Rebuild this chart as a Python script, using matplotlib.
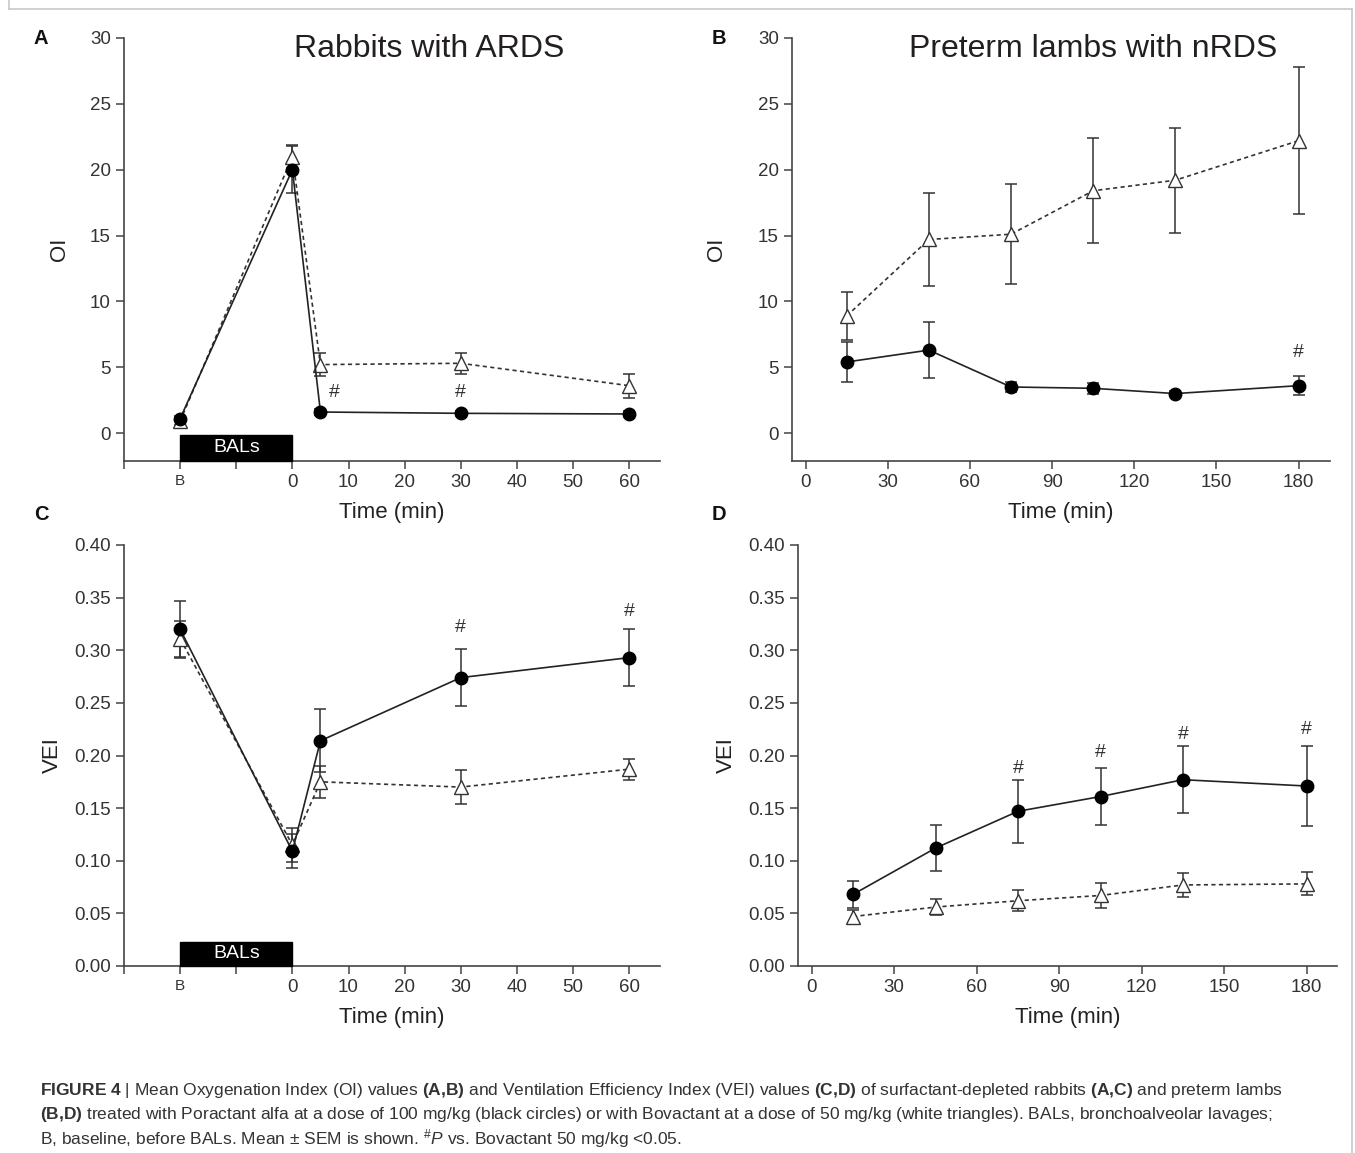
import matplotlib
matplotlib.use("Agg")
import matplotlib.pyplot as plt
from matplotlib.lines import Line2D
from matplotlib.patches import Rectangle

plt.rcParams['font.family'] = ['Liberation Sans', 'DejaVu Sans']
plt.rcParams['mathtext.fontset'] = 'custom'
plt.rcParams['mathtext.rm'] = 'Liberation Sans'
plt.rcParams['mathtext.bf'] = 'Liberation Sans:bold'
plt.rcParams['mathtext.it'] = 'Liberation Sans:italic'

NARROW = ['Liberation Sans Narrow', 'Liberation Sans', 'DejaVu Sans']

# rabbits: B (baseline) is drawn at -20 on the time axis
rab_t = [-20, 0, 5, 30, 60]
rab_oi_por = [1.1, 20.0, 1.6, 1.5, 1.45]
rab_oi_por_err = [0.2, 1.8, 0.2, 0.2, 0.2]
rab_oi_bov = [0.9, 21.0, 5.2, 5.3, 3.6]
rab_oi_bov_err = [0.3, 0.9, 0.9, 0.8, 0.9]
rab_vei_por = [0.320, 0.109, 0.214, 0.274, 0.293]
rab_vei_por_err = [0.027, 0.016, 0.030, 0.027, 0.027]
rab_vei_bov = [0.311, 0.115, 0.175, 0.170, 0.187]
rab_vei_bov_err = [0.017, 0.016, 0.015, 0.016, 0.010]
rab_ticks = [-30, -20, -10, 0, 10, 20, 30, 40, 50, 60]
rab_ticklabels = ['', 'B', '', '0', '10', '20', '30', '40', '50', '60']

# lambs
lamb_t = [15, 45, 75, 105, 135, 180]
lamb_oi_por = [5.4, 6.3, 3.5, 3.4, 3.0, 3.6]
lamb_oi_por_err = [1.5, 2.1, 0.4, 0.4, 0.2, 0.7]
lamb_oi_bov = [8.9, 14.7, 15.1, 18.4, 19.2, 22.2]
lamb_oi_bov_err = [1.8, 3.5, 3.8, 4.0, 4.0, 5.6]
lamb_vei_por = [0.068, 0.112, 0.147, 0.161, 0.177, 0.171]
lamb_vei_por_err = [0.013, 0.022, 0.030, 0.027, 0.032, 0.038]
lamb_vei_bov = [0.047, 0.056, 0.062, 0.067, 0.077, 0.078]
lamb_vei_bov_err = [0.006, 0.008, 0.010, 0.012, 0.011, 0.011]
lamb_ticks = [0, 30, 60, 90, 120, 150, 180]

# significance marks (#)
hash_a = [(7.5, 3.1), (30, 3.1)]
hash_b = [(180, 6.1)]
hash_c = [(30, 0.322), (60, 0.337)]
hash_d = [(75, 0.188), (105, 0.203), (135, 0.220), (180, 0.225)]

W, H = 1355, 1153
fig = plt.figure(figsize=(W / 100, H / 100), dpi=100)

# light frame round the figure
for xs, ys in [([8.5, 8.5], [0, 9]), ([8.5, 1352], [9, 9]), ([1352, 1352], [9, 1153])]:
    fig.add_artist(Line2D([x / W for x in xs], [1 - y / H for y in ys],
                          color='#c8c8c8', lw=1.2))


def px_axes(l, t, r, b):
    return fig.add_axes([l / W, 1 - b / H, (r - l) / W, (b - t) / H])


def style(ax):
    for s in ['top', 'right']:
        ax.spines[s].set_visible(False)
    for s in ['left', 'bottom']:
        ax.spines[s].set_color('#444444')
        ax.spines[s].set_linewidth(1.2)
    ax.tick_params(direction='out', length=6, width=1.1, color='#444444',
                   labelcolor='#333333', labelsize=13.5)
    for lab in ax.get_xticklabels() + ax.get_yticklabels():
        lab.set_family(NARROW)


def draw(ax, t, por, por_err, bov, bov_err):
    ax.errorbar(t, bov, yerr=bov_err, fmt='none', ecolor='#333333',
                elinewidth=1.1, capsize=4, capthick=1.1, zorder=2)
    ax.errorbar(t, por, yerr=por_err, fmt='none', ecolor='#333333',
                elinewidth=1.1, capsize=4, capthick=1.1, zorder=2)
    ax.plot(t, bov, color='#333333', lw=1.2, ls=(0, (2.5, 2)), marker='^',
            ms=10, mfc='white', mec='#333333', mew=1.0, zorder=3)
    ax.plot(t, por, color='#222222', lw=1.2, ls='-', marker='o',
            ms=9, mfc='black', mec='black', zorder=4)


def hashes(ax, pts):
    for x, y in pts:
        ax.text(x, y, '#', ha='center', va='center', fontsize=14,
                color='#333333', family=NARROW)


# A
axA = px_axes(124, 38, 660, 461)
draw(axA, rab_t, rab_oi_por, rab_oi_por_err, rab_oi_bov, rab_oi_bov_err)
axA.add_patch(Rectangle((-20, -2.12), 20, 2.0, color='black', zorder=5, clip_on=False))
axA.text(-10, -1.1, 'BALs', color='white', ha='center', va='center', fontsize=14, zorder=6)
axA.set_xlim(-30, 65.5)
axA.set_ylim(-2.12, 30)
axA.set_xticks(rab_ticks)
axA.set_xticklabels(rab_ticklabels)
axA.set_yticks(range(0, 31, 5))
hashes(axA, hash_a)
axA.set_title('Rabbits with ARDS', fontsize=23, color='#231f20', pad=0, y=0.955, x=0.57)
axA.set_ylabel('OI', fontsize=16, color='#222222', labelpad=14)

# B
axB = px_axes(792, 38, 1330, 461)
draw(axB, lamb_t, lamb_oi_por, lamb_oi_por_err, lamb_oi_bov, lamb_oi_bov_err)
axB.set_xlim(-5, 191.5)
axB.set_ylim(-2.12, 30)
axB.set_xticks(lamb_ticks)
axB.set_yticks(range(0, 31, 5))
hashes(axB, hash_b)
axB.set_title('Preterm lambs with nRDS', fontsize=23, color='#231f20', pad=0, y=0.955, x=0.56)
axB.set_ylabel('OI', fontsize=16, color='#222222', labelpad=22)

# C
axC = px_axes(124, 545, 660, 966)
draw(axC, rab_t, rab_vei_por, rab_vei_por_err, rab_vei_bov, rab_vei_bov_err)
axC.add_patch(Rectangle((-20, 0), 20, 0.023, color='black', zorder=5, clip_on=False))
axC.text(-10, 0.0115, 'BALs', color='white', ha='center', va='center', fontsize=14, zorder=6)
axC.set_xlim(-30, 65.5)
axC.set_ylim(0, 0.4)
axC.set_xticks(rab_ticks)
axC.set_xticklabels(rab_ticklabels)
axC.set_yticks([i * 0.05 for i in range(9)])
axC.set_yticklabels(['%.2f' % (i * 0.05) for i in range(9)])
hashes(axC, hash_c)
axC.set_ylabel('VEI', fontsize=16, color='#222222', labelpad=8)

# D
axD = px_axes(798, 545, 1337, 966)
draw(axD, lamb_t, lamb_vei_por, lamb_vei_por_err, lamb_vei_bov, lamb_vei_bov_err)
axD.set_xlim(-5, 191)
axD.set_ylim(0, 0.4)
axD.set_xticks(lamb_ticks)
axD.set_yticks([i * 0.05 for i in range(9)])
axD.set_yticklabels(['%.2f' % (i * 0.05) for i in range(9)])
hashes(axD, hash_d)
axD.set_ylabel('VEI', fontsize=16, color='#222222', labelpad=8)

for ax in [axA, axB, axC, axD]:
    ax.set_xlabel('Time (min)', fontsize=16, color='#222222', labelpad=8)
    style(ax)

for ax in [axA, axC]:
    ax.get_xticklabels()[1].set_fontsize(11)

for lab, x, y in [('A', 41, 38), ('B', 719, 38), ('C', 41, 514), ('D', 719, 514)]:
    fig.text(x / W, 1 - y / H, lab, fontsize=14.5, fontweight='bold',
             ha='center', va='center', color='#111111')

caption = [
    r"$\mathbf{FIGURE\ 4}$ | Mean Oxygenation Index (OI) values $\mathbf{(A{,}B)}$ and "
    r"Ventilation Efficiency Index (VEI) values $\mathbf{(C{,}D)}$ of surfactant-depleted "
    r"rabbits $\mathbf{(A{,}C)}$ and preterm lambs",
    r"$\mathbf{(B{,}D)}$ treated with Poractant alfa at a dose of 100 mg/kg (black circles) "
    r"or with Bovactant at a dose of 50 mg/kg (white triangles). BALs, bronchoalveolar lavages;",
    r"B, baseline, before BALs. Mean ± SEM is shown. $^{\#}\mathit{P}$ vs. Bovactant 50 mg/kg <0.05.",
]
for i, line in enumerate(caption):
    fig.text(40 / W, 1 - (1091 + 24 * i) / H, line, fontsize=12.5,
             color='#333333', ha='left', va='center')

fig.savefig('out.png', dpi=100)
